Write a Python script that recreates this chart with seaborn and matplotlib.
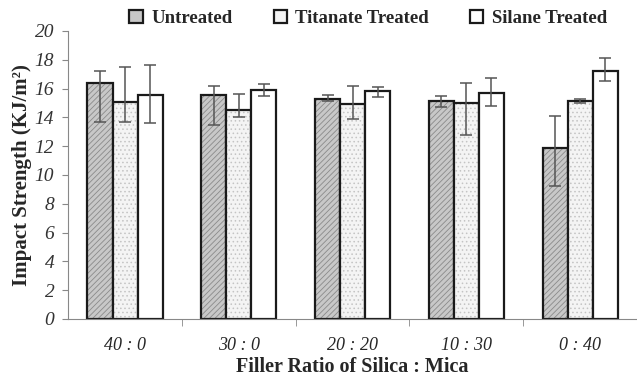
import matplotlib
matplotlib.use("Agg")
import matplotlib.pyplot as plt
import numpy as np
import pandas as pd
import seaborn as sns

ratios = ["40 : 0", "30 : 0", "20 : 20", "10 : 30", "0 : 40"]
treatments = ["Untreated", "Titanate Treated", "Silane Treated"]

untreated = [16.35, 15.55, 15.3, 15.1, 11.9]
titanate = [15.05, 14.5, 14.95, 15.0, 15.15]
silane = [15.55, 15.9, 15.8, 15.7, 17.25]

# error bar ends (low, high)
untreated_lo = [13.7, 13.5, 15.1, 14.7, 9.2]
untreated_hi = [17.2, 16.2, 15.55, 15.5, 14.1]
titanate_lo = [13.7, 14.0, 13.9, 12.8, 15.0]
titanate_hi = [17.5, 15.6, 16.2, 16.35, 15.3]
silane_lo = [13.6, 15.5, 15.4, 14.8, 16.5]
silane_hi = [17.6, 16.3, 16.1, 16.7, 18.1]

df = pd.DataFrame({
    "ratio": ratios * 3,
    "treatment": np.repeat(treatments, len(ratios)),
    "value": untreated + titanate + silane,
})
lows = [untreated_lo, titanate_lo, silane_lo]
highs = [untreated_hi, titanate_hi, silane_hi]

sns.set_style("ticks")
plt.rcParams["font.family"] = ["Liberation Serif", "DejaVu Serif"]
plt.rcParams["hatch.linewidth"] = 0.6

fig = plt.figure(figsize=(6.37, 3.77), dpi=100)
ax = fig.add_axes([0.107, 0.154, 0.893, 0.764])

palette = {"Untreated": "#c8c8c8", "Titanate Treated": "#f4f4f4", "Silane Treated": "#ffffff"}
sns.barplot(data=df, x="ratio", y="value", hue="treatment", order=ratios,
            hue_order=treatments, palette=palette, width=0.66, errorbar=None,
            edgecolor="#1a1a1a", linewidth=1.6, ax=ax)

hatches = ["//////", "....", ""]
hatch_colors = ["#8a8a8a", "#c4c4c4", "#ffffff"]
for cont, hatch, hc, lo, hi in zip(ax.containers, hatches, hatch_colors, lows, highs):
    xs, ys = [], []
    for bar in cont:
        bar.set_hatch(hatch)
        bar._hatch_color = matplotlib.colors.to_rgba(hc)
        xs.append(bar.get_x() + bar.get_width() / 2)
        ys.append(bar.get_height())
    ys = np.array(ys)
    yerr = [ys - np.array(lo), np.array(hi) - ys]
    ax.errorbar(xs, ys, yerr=yerr, fmt="none", ecolor="#555555",
                elinewidth=1.1, capsize=4, capthick=1.1)

ax.set_ylim(0, 20)
ax.set_xlim(-0.5, 4.5)
ax.set_yticks(range(0, 21, 2))
ax.set_xticks(np.arange(0.5, 4.5, 1), minor=True)
ax.tick_params(axis="x", which="major", length=0, labelsize=13, pad=13)
ax.tick_params(axis="x", which="minor", length=5, color="#888888")
ax.tick_params(axis="y", length=4, color="#888888", labelsize=14,
               labelcolor="#333333", pad=6)
for lab in ax.get_xticklabels() + ax.get_yticklabels():
    lab.set_fontstyle("italic")

sns.despine(ax=ax)
ax.spines["left"].set_color("#888888")
ax.spines["bottom"].set_color("#888888")

ax.set_xlabel("Filler Ratio of Silica : Mica", fontsize=14.5, fontweight="bold", labelpad=2)
ax.set_ylabel("Impact Strength (KJ/m²)", fontsize=15, fontweight="bold", labelpad=2)

handles, labels = ax.get_legend_handles_labels()
ax.legend(handles, labels, loc="center", bbox_to_anchor=(0.578, 0.952),
          bbox_transform=fig.transFigure, ncol=3, frameon=False,
          prop={"weight": "bold", "size": 13.5}, handlelength=0.7,
          handleheight=0.7, columnspacing=2.2, handletextpad=0.45,
          borderpad=0, borderaxespad=0)

fig.savefig("out.png", dpi=100)
